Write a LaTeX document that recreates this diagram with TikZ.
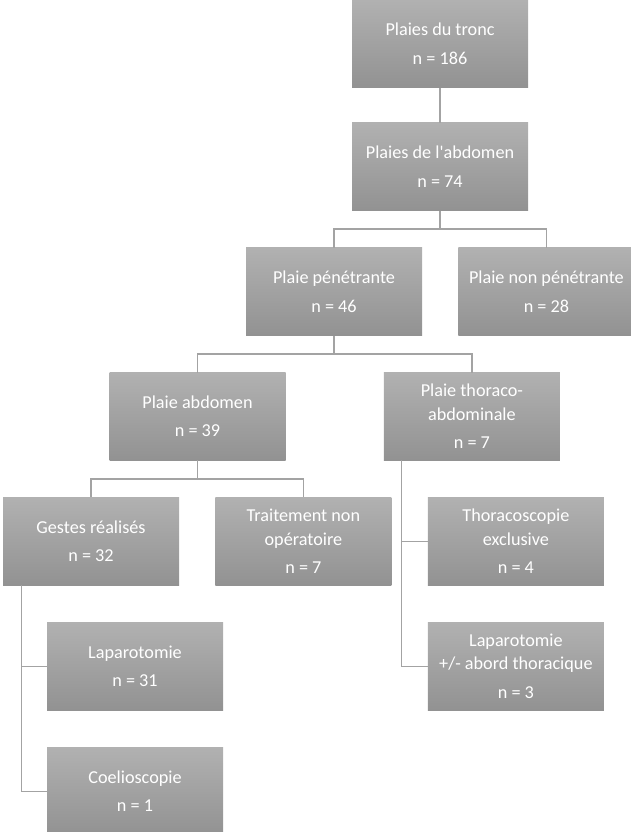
\documentclass[tikz,border=0pt]{standalone}
\usepackage{fontspec}
\setmainfont{Carlito}[Ligatures=TeXOff]
\usepackage{tikz}
\usetikzlibrary{positioning,calc}
\definecolor{celltop}{HTML}{B1B1B1}
\definecolor{cellbot}{HTML}{929292}
\definecolor{wire}{HTML}{A3A3A3}
\tikzset{cell/.style={top color=celltop,bottom color=cellbot,draw=none,
  text=white,align=center,minimum width=176pt,minimum height=87.5pt,
  inner sep=2pt,font=\fontsize{18.2}{23.5}\selectfont},
  link/.style={draw=wire,line width=1.3pt}}

\begin{document}
\begin{tikzpicture}[x=1pt,y=1pt,node distance=37pt]
\useasboundingbox (0,0) rectangle (631,-832);
\node[cell] (tronc) at (440,-43.75) {Plaies du tronc\\[5pt]n = 186};
\node[cell,below=35pt of tronc] (abdo) {Plaies de l'abdomen\\[5pt]n = 74};
\node[cell,below=of abdo,xshift=-106pt] (pen) {Plaie pénétrante\\[5pt]n = 46};
\node[cell,right=36pt of pen] (nonpen) {Plaie non pénétrante\\[5pt]n = 28};
\node[cell,below=of pen,xshift=-136.5pt] (pabd) {Plaie abdomen\\[5pt]n = 39};
\node[cell,right=98pt of pabd] (thor) {Plaie thoraco-\\abdominale\\[5pt]n = 7};
\node[cell,below=of pabd,xshift=-106.5pt] (gestes) {Gestes réalisés\\[5pt]n = 32};
\node[cell,right=36pt of gestes] (tno) {Traitement non\\opératoire\\[5pt]n = 7};
\node[cell,below=of thor,xshift=44pt] (thsc) {Thoracoscopie\\exclusive\\[5pt]n = 4};
\node[cell,below=of thsc] (lapth) {Laparotomie\\+/- abord thoracique\\[5pt]n = 3};
\node[cell,below=of gestes,xshift=44pt] (lap) {Laparotomie\\[5pt]n = 31};
\node[cell,below=of lap] (coel) {Coelioscopie\\[5pt]n = 1};
% tree links
\draw[link] (tronc.south)--(abdo.north);
\draw[link] (abdo.south)--++(0,-18.5) -| (pen.north);
\draw[link] (abdo.south)--++(0,-18.5) -| (nonpen.north);
\draw[link] (pen.south)--++(0,-18.5) -| (pabd.north);
\draw[link] (pen.south)--++(0,-18.5) -| (thor.north);
\draw[link] (pabd.south)--++(0,-18.5) -| (gestes.north);
\draw[link] (pabd.south)--++(0,-18.5) -| (tno.north);
% side links
\draw[link] ($(gestes.south west)+(19,0)$) |- (lap.west);
\draw[link] ($(gestes.south west)+(19,0)$) |- (coel.west);
\draw[link] ($(thor.south west)+(18,0)$) |- (thsc.west);
\draw[link] ($(thor.south west)+(18,0)$) |- (lapth.west);
\end{tikzpicture}
\end{document}
